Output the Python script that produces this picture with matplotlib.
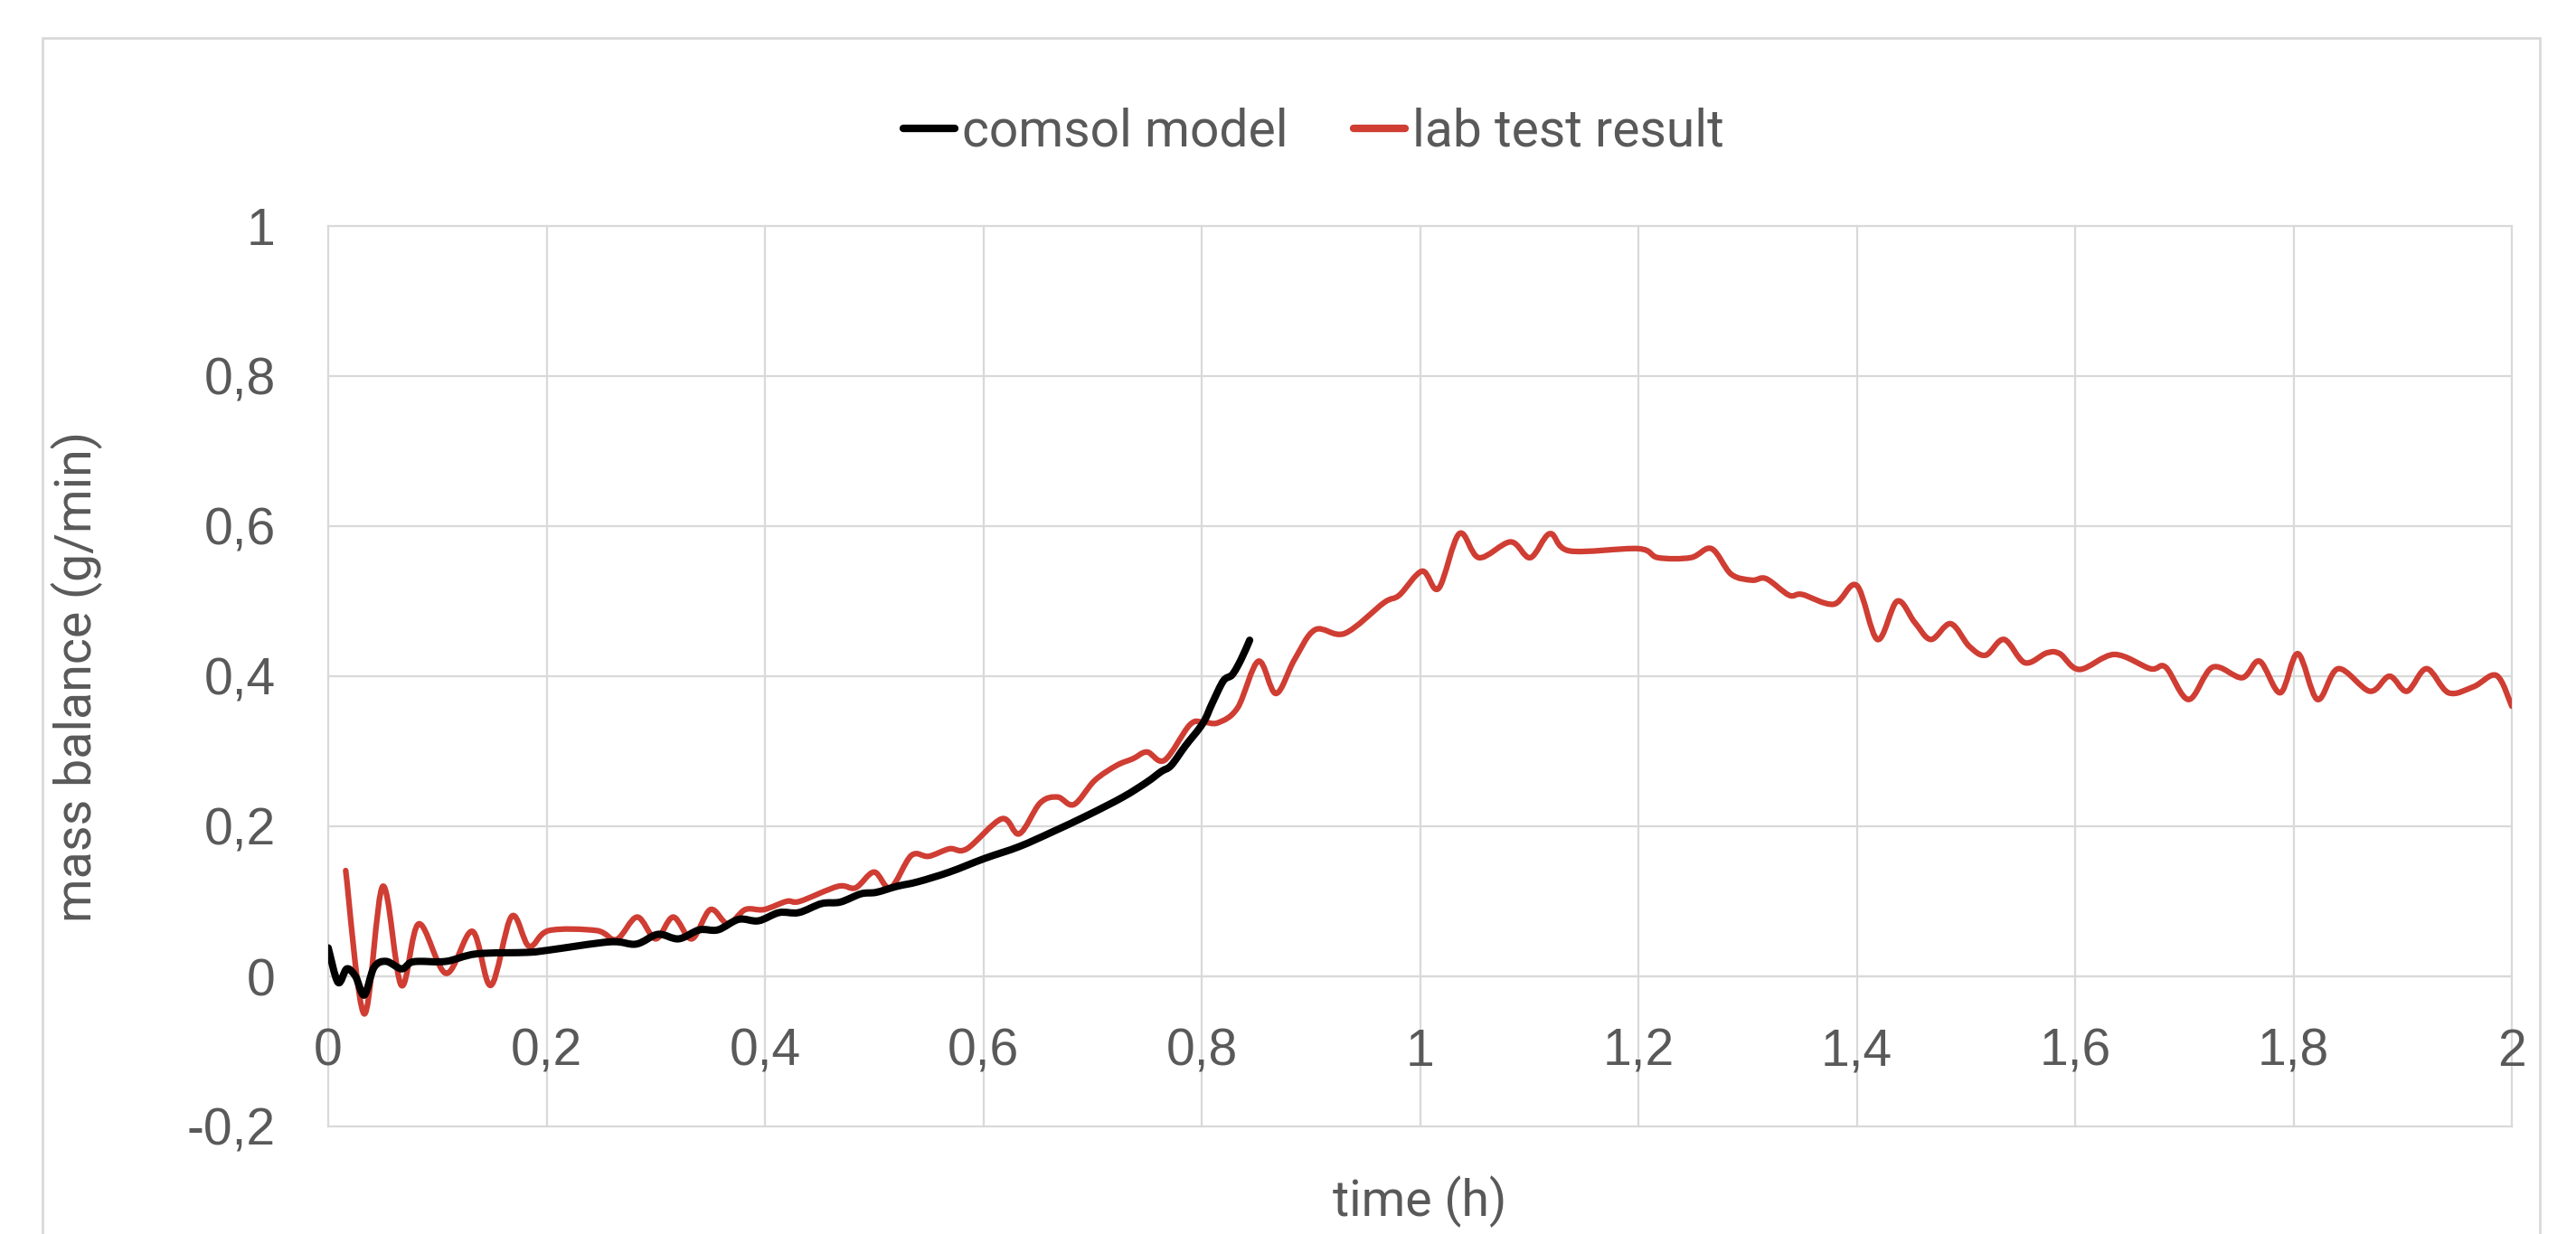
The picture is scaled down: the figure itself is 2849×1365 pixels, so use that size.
import matplotlib
matplotlib.use("Agg")
import matplotlib.pyplot as plt
from matplotlib.path import Path
from matplotlib.patches import PathPatch, Rectangle
from matplotlib.lines import Line2D
from matplotlib.ticker import MultipleLocator, FuncFormatter

# comsol model (black) - time (h), mass balance (g/min)
comsol_t = [0.000, 0.009, 0.017, 0.025, 0.033, 0.042, 0.053, 0.067, 0.075, 0.083,
            0.108, 0.136, 0.183, 0.202, 0.258, 0.282, 0.302, 0.321, 0.340, 0.357,
            0.376, 0.394, 0.413, 0.431, 0.452, 0.469, 0.488, 0.502, 0.521, 0.540,
            0.569, 0.601, 0.633, 0.664, 0.696, 0.728, 0.750, 0.763, 0.772, 0.785,
            0.801, 0.810, 0.820, 0.828, 0.836, 0.844]
comsol_y = [0.038, -0.008, 0.010, 0.000, -0.025, 0.012, 0.020, 0.010, 0.018, 0.020,
            0.020, 0.030, 0.032, 0.035, 0.046, 0.043, 0.056, 0.050, 0.062, 0.062,
            0.076, 0.074, 0.085, 0.085, 0.097, 0.099, 0.110, 0.112, 0.120, 0.126,
            0.139, 0.157, 0.173, 0.193, 0.215, 0.239, 0.259, 0.273, 0.281, 0.307,
            0.337, 0.365, 0.394, 0.402, 0.422, 0.448]

# lab test result (red)
lab_t = [0.016, 0.033, 0.050, 0.067, 0.083, 0.108, 0.132, 0.149, 0.168, 0.184,
         0.202, 0.246, 0.264, 0.283, 0.300, 0.316, 0.333, 0.350, 0.366, 0.382,
         0.399, 0.420, 0.432, 0.467, 0.483, 0.500, 0.515, 0.534, 0.550, 0.569,
         0.585, 0.617, 0.633, 0.652, 0.668, 0.683, 0.702, 0.722, 0.737, 0.750,
         0.766, 0.789, 0.801, 0.815, 0.833, 0.852, 0.868, 0.885, 0.904, 0.931,
         0.967, 0.981, 1.002, 1.017, 1.036, 1.054, 1.083, 1.101, 1.119, 1.137,
         1.200, 1.218, 1.248, 1.267, 1.285, 1.304, 1.317, 1.338, 1.350, 1.379,
         1.400, 1.419, 1.437, 1.453, 1.468, 1.486, 1.503, 1.518, 1.535, 1.554,
         1.574, 1.586, 1.604, 1.636, 1.669, 1.683, 1.704, 1.726, 1.753, 1.769,
         1.788, 1.804, 1.822, 1.841, 1.870, 1.888, 1.904, 1.922, 1.942, 1.965,
         1.986, 2.000]
lab_y = [0.141, -0.050, 0.120, -0.012, 0.070, 0.004, 0.060, -0.012, 0.080, 0.040,
         0.061, 0.061, 0.049, 0.079, 0.050, 0.079, 0.050, 0.089, 0.070, 0.089,
         0.089, 0.100, 0.100, 0.120, 0.118, 0.139, 0.118, 0.161, 0.160, 0.170,
         0.170, 0.210, 0.190, 0.231, 0.239, 0.229, 0.261, 0.281, 0.290, 0.299,
         0.288, 0.335, 0.339, 0.338, 0.358, 0.420, 0.377, 0.422, 0.462, 0.457,
         0.498, 0.508, 0.540, 0.517, 0.590, 0.558, 0.579, 0.558, 0.590, 0.567,
         0.570, 0.558, 0.558, 0.570, 0.536, 0.528, 0.530, 0.508, 0.509, 0.496,
         0.521, 0.449, 0.500, 0.472, 0.449, 0.470, 0.440, 0.428, 0.449, 0.418,
         0.431, 0.430, 0.409, 0.429, 0.410, 0.412, 0.369, 0.412, 0.398, 0.420,
         0.378, 0.430, 0.369, 0.410, 0.380, 0.400, 0.380, 0.410, 0.378, 0.386,
         0.401, 0.360]

TEXT = "#595959"
GRID = "#d9d9d9"
RED = "#cf3d33"


def smooth_path(xs, ys):
    # Excel-like smoothed line: Catmull-Rom segments as cubic Beziers
    pts = list(zip(xs, ys))
    verts = [pts[0]]
    codes = [Path.MOVETO]
    n = len(pts)
    for i in range(n - 1):
        p0 = pts[i - 1] if i > 0 else pts[i]
        p1 = pts[i]
        p2 = pts[i + 1]
        p3 = pts[i + 2] if i + 2 < n else pts[i + 1]
        c1 = (p1[0] + (p2[0] - p0[0]) / 6, p1[1] + (p2[1] - p0[1]) / 6)
        c2 = (p2[0] - (p3[0] - p1[0]) / 6, p2[1] - (p3[1] - p1[1]) / 6)
        verts += [c1, c2, p2]
        codes += [Path.CURVE4] * 3
    return Path(verts, codes)


fig = plt.figure(figsize=(28.49, 13.65), dpi=100)
ax = fig.add_axes([363 / 2849, 1 - 1246 / 1365, (2778 - 363) / 2849, (1246 - 250) / 1365])

# chart area border
fig.patches.append(Rectangle((47 / 2849, -0.05), (2809 - 47) / 2849, 1.05 - 42 / 1365,
                             transform=fig.transFigure, fill=False, edgecolor=GRID, lw=2))

ax.set_xlim(0, 2)
ax.set_ylim(-0.2, 1)
ax.xaxis.set_major_locator(MultipleLocator(0.2))
ax.yaxis.set_major_locator(MultipleLocator(0.2))
fmt = FuncFormatter(lambda v, p: ("%g" % round(v, 2)).replace(".", ","))
ax.xaxis.set_major_formatter(fmt)
ax.yaxis.set_major_formatter(fmt)

ax.grid(True, color=GRID, lw=1.6, clip_on=False)
ax.set_axisbelow(True)
for s in ["top", "right", "left"]:
    ax.spines[s].set_visible(False)
ax.spines["bottom"].set_position(("data", 0))
ax.spines["bottom"].set_color(GRID)
ax.spines["bottom"].set_linewidth(1.6)

ax.tick_params(axis="both", length=0, labelsize=41, labelcolor=TEXT)
ax.tick_params(axis="x", pad=41)
ax.tick_params(axis="y", pad=42)
for lbl in ax.get_xticklabels() + ax.get_yticklabels():
    lbl.set_family("Liberation Sans")

ax.add_patch(PathPatch(smooth_path(lab_t, lab_y), fill=False, edgecolor=RED,
                       lw=4.5, capstyle="round", joinstyle="round", zorder=3))
ax.add_patch(PathPatch(smooth_path(comsol_t, comsol_y), fill=False, edgecolor="black",
                       lw=5.8, capstyle="round", joinstyle="round", zorder=4))

ax.set_xlabel("time (h)", fontsize=40, color=TEXT, family="Roboto", va="center")
ax.xaxis.set_label_coords(0.5, -0.084)
ax.set_ylabel("mass balance (g/min)", fontsize=40, color=TEXT, family="Roboto", va="center")
ax.yaxis.set_label_coords(-0.115, 0.5)

handles = [Line2D([], [], color="black", lw=6, solid_capstyle="round"),
           Line2D([], [], color=RED, lw=6, solid_capstyle="round")]
fig.legend(handles, ["comsol model", "lab test result"], loc="center",
           bbox_to_anchor=(0.510, 0.893), ncol=2, frameon=False,
           handlelength=1.0, handletextpad=0.14, columnspacing=1.28,
           prop={"family": "Roboto", "size": 41}, labelcolor=TEXT)

fig.savefig("out.png", dpi=100)
